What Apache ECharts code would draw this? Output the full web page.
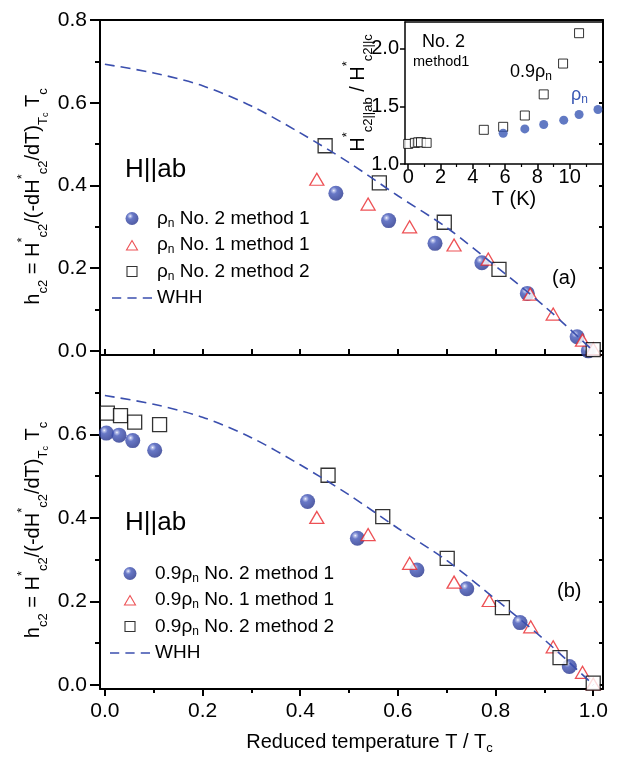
<!DOCTYPE html>
<html>
<head>
<meta charset="utf-8">
<script src="https://cdn.jsdelivr.net/npm/echarts@6/dist/echarts.min.js"></script>
<style>
html, body { margin: 0; padding: 0; background: #fff; }
#chart { width: 621px; height: 761px; }
</style>
</head>
<body>
<div id="chart"></div>
<script>
// ---- Reduced upper critical field h_c2 versus reduced temperature t = T/Tc ----

// Panel (a): rho_n criterion
const aSphereT = [0.473, 0.581, 0.676, 0.772, 0.865, 0.967, 0.990];
const aSphereH = [0.381, 0.315, 0.260, 0.213, 0.139, 0.034, 0.000];
const aTriT = [0.434, 0.539, 0.624, 0.715, 0.785, 0.871, 0.918, 0.978, 1.000];
const aTriH = [0.415, 0.355, 0.300, 0.256, 0.222, 0.137, 0.089, 0.026, 0.005];
const aSquareT = [0.451, 0.562, 0.695, 0.807, 1.000];
const aSquareH = [0.496, 0.406, 0.311, 0.197, 0.003];

// Panel (b): 0.9 rho_n criterion
const bSphereT = [0.003, 0.029, 0.057, 0.102, 0.415, 0.517, 0.639, 0.741, 0.850, 0.951];
const bSphereH = [0.603, 0.598, 0.585, 0.562, 0.439, 0.351, 0.275, 0.230, 0.149, 0.044];
const bTriT = [0.434, 0.539, 0.624, 0.715, 0.787, 0.872, 0.918, 0.978, 1.000];
const bTriH = [0.401, 0.360, 0.291, 0.246, 0.202, 0.139, 0.091, 0.030, 0.002];
const bSquareT = [0.005, 0.032, 0.061, 0.112, 0.457, 0.569, 0.701, 0.814, 0.932, 1.000];
const bSquareH = [0.651, 0.645, 0.629, 0.623, 0.502, 0.403, 0.303, 0.185, 0.065, 0.004];

// WHH curve
const whhT = [0.0, 0.1, 0.2, 0.3, 0.4, 0.5, 0.6, 0.7, 0.8, 0.9, 1.0];
const whhH = [0.693, 0.672, 0.641, 0.592, 0.527, 0.455, 0.375, 0.298, 0.205, 0.108, 0.0];

// Inset: anisotropy H*c2||ab / H*c2||c versus T (K), sample No. 2, method 1
const insetSquareT = [0.0, 0.41, 0.62, 0.79, 1.14, 4.68, 5.88, 7.22, 8.39, 9.59, 10.58];
const insetSquareR = [1.174, 1.183, 1.188, 1.188, 1.183, 1.296, 1.322, 1.420, 1.603, 1.870, 2.133];
const insetCircleT = [5.88, 7.22, 8.39, 9.63, 10.58, 11.75];
const insetCircleR = [1.266, 1.304, 1.342, 1.380, 1.429, 1.472];

// Tick positions
const tTicks = [0.0, 0.1, 0.2, 0.3, 0.4, 0.5, 0.6, 0.7, 0.8, 0.9, 1.0];
const tLabels = [0.0, 0.2, 0.4, 0.6, 0.8, 1.0];
const tMinor = [0.1, 0.3, 0.5, 0.7, 0.9];
const hLabelsA = [0.0, 0.2, 0.4, 0.6, 0.8];
const hLabelsB = [0.0, 0.2, 0.4, 0.6];
const hMinor = [0.1, 0.3, 0.5, 0.7];
const hRightA = [0.0, 0.1, 0.2, 0.3, 0.4, 0.5, 0.6, 0.7, 0.8];
const hRightB = [0.0, 0.1, 0.2, 0.3, 0.4, 0.5, 0.6, 0.7];
const insetTLabels = [0, 2, 4, 6, 8, 10];
const insetTMinor = [1, 3, 5, 7, 9, 11];
const insetRLabels = [1.0, 1.5, 2.0];

// Legend entries
const namesA = ['ρn No. 2 method 1', 'ρn No. 1 method 1', 'ρn No. 2 method 2', 'WHH'];
const namesB = ['0.9ρn No. 2 method 1', '0.9ρn No. 1 method 1', '0.9ρn No. 2 method 2', 'WHH'];

const FONT = '"Liberation Sans", Arial, Helvetica, sans-serif';
const BLUE = '#3b4fae';
const RED = '#e8262a';
const frameLine = { color: '#000', width: 2 };
const tickLine = { color: '#000', width: 2 };

const pairs = (xs, ys) => xs.map((x, i) => [x, ys[i]]);

// shaded ball marker
const sphere = {
  type: 'radial', x: 0.36, y: 0.32, r: 0.72,
  colorStops: [
    { offset: 0, color: '#ffffff' },
    { offset: 0.1, color: '#aab4e6' },
    { offset: 0.32, color: '#4256b8' },
    { offset: 1, color: '#23318a' }
  ]
};

const richSub = {
  m: { fontFamily: FONT, fontSize: 20, lineHeight: 34, color: '#000' },
  s: { fontFamily: FONT, fontSize: 13, lineHeight: 14, verticalAlign: 'bottom', color: '#000' },
  p: { fontFamily: FONT, fontSize: 13, lineHeight: 14, verticalAlign: 'top', color: '#000' },
  u: { fontFamily: FONT, fontSize: 9, lineHeight: 4, verticalAlign: 'bottom', color: '#000' }
};

const hc2Title = '{m|h}{s|c2}{m| = H}{p|*}{s|c2}{m|/(-dH}{p|*}{s|c2}{m|/dT)}{s|T}{u|c}{m| T}{s|c}';
const ratioTitle = '{m|H}{p|*}{s|c2||ab}{m| / H}{p|*}{s|c2||c}';

function axis(o) {
  return Object.assign({
    type: 'value',
    splitLine: { show: false },
    axisLine: { show: false, onZero: false },
    axisTick: { show: false },
    axisLabel: { show: false },
    nameMoveOverlap: false
  }, o);
}

const fmt1 = v => Number(v).toFixed(1);
const labelStyle = { show: true, color: '#000', fontFamily: FONT, fontSize: 21 };
const insetLabelStyle = { show: true, color: '#000', fontFamily: FONT, fontSize: 20 };

const xAxes = [
  // 0: panel (a) bottom, inward ticks
  axis({ gridIndex: 0, position: 'bottom', min: -0.01, max: 1.02,
    axisLine: { show: true, onZero: false, lineStyle: frameLine },
    axisTick: { show: true, inside: true, length: 6, lineStyle: tickLine, customValues: tTicks } }),
  // 1: panel (a) top frame
  axis({ gridIndex: 0, position: 'top', min: -0.01, max: 1.02,
    axisLine: { show: true, onZero: false, lineStyle: frameLine } }),
  // 2: panel (b) bottom, labelled
  axis({ gridIndex: 1, position: 'bottom', min: -0.01, max: 1.02,
    axisLine: { show: true, onZero: false, lineStyle: frameLine },
    axisTick: { show: true, length: 7, lineStyle: tickLine, customValues: tLabels },
    axisLabel: Object.assign({}, labelStyle, { margin: 12, formatter: fmt1, customValues: tLabels }),
    name: '{m|Reduced temperature T / T}{s|c}', nameLocation: 'middle', nameGap: 40,
    nameTextStyle: { padding: [0, 0, 0, 36], rich: {
      m: { fontFamily: FONT, fontSize: 20, lineHeight: 26, color: '#000' },
      s: { fontFamily: FONT, fontSize: 13, lineHeight: 12, verticalAlign: 'bottom', color: '#000' } } } }),
  // 3: panel (b) bottom minor ticks
  axis({ gridIndex: 1, position: 'bottom', min: -0.01, max: 1.02,
    axisTick: { show: true, length: 4, lineStyle: tickLine, customValues: tMinor } }),
  // 4: inset bottom
  axis({ gridIndex: 2, position: 'bottom', min: -0.2, max: 12,
    axisLine: { show: true, onZero: false, lineStyle: { color: '#000', width: 1.5 } },
    axisTick: { show: true, length: 5, lineStyle: { color: '#000', width: 1.5 }, customValues: insetTLabels },
    axisLabel: Object.assign({}, insetLabelStyle, { margin: 3, customValues: insetTLabels }),
    name: 'T (K)', nameLocation: 'middle', nameGap: 25,
    nameTextStyle: { fontFamily: FONT, fontSize: 20, color: '#000', padding: [0, 0, 0, 21] } }),
  // 5: inset top frame
  axis({ gridIndex: 2, position: 'top', min: -0.2, max: 12,
    axisLine: { show: true, onZero: false, lineStyle: { color: '#000', width: 1.5 } } }),
  // 6: inset minor ticks
  axis({ gridIndex: 2, position: 'bottom', min: -0.2, max: 12,
    axisTick: { show: true, length: 3, lineStyle: { color: '#000', width: 1.2 }, customValues: insetTMinor } })
];

const yAxes = [
  // 0: panel (a) left, labelled
  axis({ gridIndex: 0, position: 'left', min: -0.01, max: 0.8,
    axisLine: { show: true, onZero: false, lineStyle: frameLine },
    axisTick: { show: true, length: 10, lineStyle: tickLine, customValues: hLabelsA },
    axisLabel: Object.assign({}, labelStyle, { margin: 13, formatter: fmt1, customValues: hLabelsA }),
    name: hc2Title, nameLocation: 'middle', nameRotate: 90, nameGap: 50,
    nameTextStyle: { rich: richSub, padding: [0, 18, 0, 0] } }),
  // 1: panel (a) left minor ticks
  axis({ gridIndex: 0, position: 'left', min: -0.01, max: 0.8,
    axisTick: { show: true, length: 5, lineStyle: tickLine, customValues: hMinor } }),
  // 2: panel (a) right frame
  axis({ gridIndex: 0, position: 'right', min: -0.01, max: 0.8,
    axisLine: { show: true, onZero: false, lineStyle: frameLine },
    axisTick: { show: true, inside: true, length: 4, lineStyle: tickLine, customValues: hRightA } }),
  // 3: panel (b) left, labelled
  axis({ gridIndex: 1, position: 'left', min: -0.01, max: 0.79,
    axisLine: { show: true, onZero: false, lineStyle: frameLine },
    axisTick: { show: true, length: 10, lineStyle: tickLine, customValues: hLabelsB },
    axisLabel: Object.assign({}, labelStyle, { margin: 13, formatter: fmt1, customValues: hLabelsB }),
    name: hc2Title, nameLocation: 'middle', nameRotate: 90, nameGap: 50,
    nameTextStyle: { rich: richSub, padding: [0, 16, 0, 0] } }),
  // 4: panel (b) left minor ticks
  axis({ gridIndex: 1, position: 'left', min: -0.01, max: 0.79,
    axisTick: { show: true, length: 5, lineStyle: tickLine, customValues: hMinor } }),
  // 5: panel (b) right frame
  axis({ gridIndex: 1, position: 'right', min: -0.01, max: 0.79,
    axisLine: { show: true, onZero: false, lineStyle: frameLine },
    axisTick: { show: true, inside: true, length: 4, lineStyle: tickLine, customValues: hRightB } }),
  // 6: inset left
  axis({ gridIndex: 2, position: 'left', min: 1.0, max: 2.23,
    axisLine: { show: true, onZero: false, lineStyle: { color: '#000', width: 1.5 } },
    axisTick: { show: true, length: 5, lineStyle: { color: '#000', width: 1.5 }, customValues: insetRLabels },
    axisLabel: Object.assign({}, insetLabelStyle, { margin: 6, formatter: fmt1, customValues: insetRLabels }),
    name: ratioTitle, nameLocation: 'middle', nameRotate: 90, nameGap: 30,
    nameTextStyle: { rich: richSub } })
];

function whhSeries(xi, yi) {
  return { name: 'WHH', type: 'line', xAxisIndex: xi, yAxisIndex: yi,
    data: pairs(whhT, whhH), symbol: 'none', smooth: 0.3, silent: true,
    itemStyle: { color: BLUE },
    lineStyle: { color: BLUE, width: 1.6, type: [10, 6] } };
}
function sphereSeries(name, xs, ys, xi, yi) {
  return { name, type: 'scatter', xAxisIndex: xi, yAxisIndex: yi, data: pairs(xs, ys),
    symbol: 'circle', symbolSize: 15, itemStyle: { color: sphere } };
}
function triSeries(name, xs, ys, xi, yi) {
  return { name, type: 'scatter', xAxisIndex: xi, yAxisIndex: yi, data: pairs(xs, ys),
    symbol: 'triangle', symbolSize: [14, 12],
    itemStyle: { color: '#fff', borderColor: RED, borderWidth: 1.3 } };
}
function squareSeries(name, xs, ys, xi, yi) {
  return { name, type: 'scatter', xAxisIndex: xi, yAxisIndex: yi, data: pairs(xs, ys),
    symbol: 'rect', symbolSize: 14,
    itemStyle: { color: '#fff', borderColor: '#000', borderWidth: 1.3 } };
}

const series = [
  whhSeries(0, 0),
  sphereSeries(namesA[0], aSphereT, aSphereH, 0, 0),
  triSeries(namesA[1], aTriT, aTriH, 0, 0),
  squareSeries(namesA[2], aSquareT, aSquareH, 0, 0),
  whhSeries(2, 3),
  sphereSeries(namesB[0], bSphereT, bSphereH, 2, 3),
  triSeries(namesB[1], bTriT, bTriH, 2, 3),
  squareSeries(namesB[2], bSquareT, bSquareH, 2, 3),
  { name: 'inset 0.9ρn', type: 'scatter', xAxisIndex: 4, yAxisIndex: 6,
    data: pairs(insetSquareT, insetSquareR), symbol: 'rect', symbolSize: 9,
    itemStyle: { color: '#fff', borderColor: '#000', borderWidth: 1 } },
  { name: 'inset ρn', type: 'scatter', xAxisIndex: 4, yAxisIndex: 6,
    data: pairs(insetCircleT, insetCircleR), symbol: 'circle', symbolSize: 9,
    itemStyle: { color: '#3a58b4' } }
];

// Legend icons: padded paths keep the marker sizes small inside the 40x13 icon box
const iconTri = 'path://M-1,-2M5.5,0L11,9.5L0,9.5ZM12,11';
const iconSquare = 'path://M-1.5,-1.5M0,0H10V10H0ZM11.5,11.5';
const iconDash = 'path://M0,0h9v1.6h-9zM15,0h9v1.6h-9zM30,0h9v1.6h-9z';

function legendItems(names) {
  return [
    { name: names[0], icon: 'circle' },
    { name: names[1], icon: iconTri, itemStyle: { borderWidth: 1.1 } },
    { name: names[2], icon: iconSquare, itemStyle: { borderWidth: 1.1 } },
    { name: names[3], icon: iconDash, itemStyle: { borderWidth: 0 } }
  ];
}

// Legend text with subscript n on rho
function legendText(name) {
  const m = name.match(/^(0\.9)?ρn (.*)$/);
  if (!m) return '{m|' + name + '}';
  return '{m|' + (m[1] || '') + 'ρ}{s|n}{m| ' + m[2] + '}';
}
const legendRich = {
  m: { fontFamily: FONT, fontSize: 19, lineHeight: 22, color: '#000' },
  s: { fontFamily: FONT, fontSize: 12, lineHeight: 10, verticalAlign: 'bottom', color: '#000' }
};
function legend(names, left, top) {
  return { data: legendItems(names), orient: 'vertical', left, top, itemWidth: 40, itemHeight: 13,
    itemGap: 6, selectedMode: false, formatter: legendText, symbolKeepAspect: true,
    textStyle: { rich: legendRich } };
}

function label(x, y, text, size, color) {
  return { type: 'text', x, y, silent: true,
    style: { text, fontFamily: FONT, fontSize: size, fill: color || '#000', verticalAlign: 'middle' } };
}

const chart = echarts.init(document.getElementById('chart'));
chart.setOption({
  animation: false,
  backgroundColor: '#fff',
  grid: [
    { left: 100, top: 20, width: 503, height: 335, outerBoundsMode: 'none' },
    { left: 100, top: 355, width: 503, height: 334, outerBoundsMode: 'none' },
    { left: 405, top: 22, width: 197, height: 142, outerBoundsMode: 'none' }
  ],
  xAxis: xAxes,
  yAxis: yAxes,
  legend: [legend(namesA, 107, 204), legend(namesB, 105, 559)],
  series,
  graphic: [
    label(125, 170, 'H||ab', 26),
    label(125, 523, 'H||ab', 26),
    label(552, 278, '(a)', 20),
    label(557, 591, '(b)', 20),
    label(422, 42, 'No. 2', 18),
    label(413, 62, 'method1', 14.5),
    { type: 'text', x: 510, y: 72, silent: true,
      style: { text: '{m|0.9ρ}{s|n}', verticalAlign: 'middle', rich: {
        m: { fontFamily: FONT, fontSize: 18, lineHeight: 22, fill: '#000', color: '#000' },
        s: { fontFamily: FONT, fontSize: 12, lineHeight: 10, verticalAlign: 'bottom', fill: '#000', color: '#000' } } } },
    { type: 'text', x: 571, y: 95, silent: true,
      style: { text: '{m|ρ}{s|n}', verticalAlign: 'middle', rich: {
        m: { fontFamily: FONT, fontSize: 18, lineHeight: 22, fill: '#3a58b4', color: '#3a58b4' },
        s: { fontFamily: FONT, fontSize: 12, lineHeight: 10, verticalAlign: 'bottom', fill: '#3a58b4', color: '#3a58b4' } } } }
  ]
});
</script>
</body>
</html>
